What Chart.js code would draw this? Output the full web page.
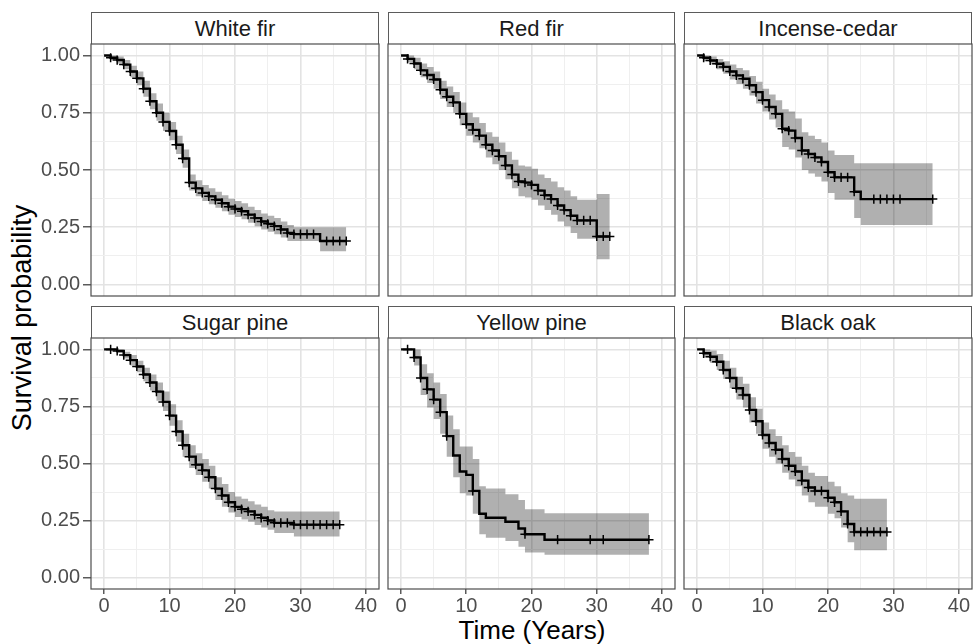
<!DOCTYPE html>
<html>
<head>
<meta charset="utf-8">
<script src="https://cdn.jsdelivr.net/npm/chart.js@4.4.1/dist/chart.umd.min.js"></script>
<style>
  body { margin: 0; background: #fff; width: 973px; height: 644px; overflow: hidden; position: relative;
         font-family: "Liberation Sans", Arial, sans-serif; }
  canvas, .strip, .axis-title { position: absolute; }
  .strip { box-sizing: border-box; border: 1px solid #5b5b5b; border-bottom: none; background: #fff;
           color: #1a1a1a; font-size: 22px; text-align: center; line-height: 31px; }
  .axis-title { color: #000; white-space: nowrap; transform: translate(-50%, -50%); }
  #ytitle { left: 22px; top: 318px; font-size: 27px; transform: translate(-50%, -50%) rotate(-90deg); }
  #xtitle { left: 532px; top: 630px; font-size: 26px; }
</style>
</head>
<body>
<div id="ytitle" class="axis-title">Survival probability</div>
<div id="xtitle" class="axis-title">Time (Years)</div>
<script>
// axis ticks (labels) and grid lines
const X_TICKS = [0, 10, 20, 30, 40];
const X_GRID = [0, 5, 10, 15, 20, 25, 30, 35, 40];
const Y_TICKS = [0, 0.25, 0.5, 0.75, 1];
const Y_GRID = [0, 0.125, 0.25, 0.375, 0.5, 0.625, 0.75, 0.875, 1];
const X_MIN = -2, X_MAX = 42;
const Y_MIN = -0.05, Y_MAX = 1.05;

// White fir
const WF_TIME = [0,1,2,3,4,5,6,7,8,9,10,11,12,13,14,15,16,17,18,19,20,21,22,23,24,25,26,27,28,29,33,37];
const WF_SURV = [1,0.99,0.98,0.96,0.93,0.90,0.855,0.80,0.75,0.71,0.67,0.61,0.55,0.445,0.42,0.40,0.385,0.37,0.355,0.34,0.33,0.32,0.305,0.29,0.275,0.265,0.255,0.24,0.225,0.22,0.19,0.19];
const WF_UPP  = [1,1,0.995,0.98,0.955,0.93,0.89,0.835,0.79,0.75,0.71,0.65,0.59,0.48,0.455,0.435,0.42,0.405,0.39,0.375,0.365,0.355,0.34,0.325,0.31,0.30,0.29,0.275,0.26,0.25,0.25,0.25];
const WF_LOW  = [1,0.98,0.965,0.94,0.905,0.87,0.82,0.765,0.715,0.67,0.63,0.57,0.51,0.41,0.385,0.365,0.35,0.335,0.32,0.305,0.295,0.285,0.27,0.255,0.24,0.23,0.22,0.205,0.19,0.19,0.145,0.145];
const WF_CENS = [1,2,3,4,5,6,7,8,9,10,11,12,13,14,15,16,17,18,19,20,21,22,23,24,25,26,27,28,29,30,31,32,34,35,36,37];

// Red fir
const RF_TIME = [0,1,2,3,4,5,6,7,8,9,10,11,12,13,14,15,16,17,18,19,20,21,22,23,24,25,26,27,30,32];
const RF_SURV = [1,0.985,0.965,0.935,0.915,0.895,0.85,0.82,0.795,0.745,0.70,0.675,0.65,0.61,0.585,0.56,0.52,0.48,0.45,0.445,0.435,0.41,0.39,0.373,0.345,0.325,0.30,0.28,0.21,0.21];
const RF_UPP  = [1,1,0.99,0.965,0.95,0.93,0.89,0.865,0.84,0.795,0.75,0.73,0.705,0.665,0.645,0.62,0.58,0.545,0.52,0.515,0.505,0.48,0.465,0.45,0.425,0.41,0.385,0.37,0.395,0.395];
const RF_LOW  = [1,0.97,0.94,0.905,0.88,0.855,0.81,0.775,0.75,0.695,0.65,0.62,0.595,0.555,0.525,0.5,0.46,0.42,0.385,0.38,0.37,0.345,0.325,0.305,0.275,0.255,0.225,0.2,0.11,0.11];
const RF_CENS = [1,2,3,4,5,6,7,8,9,10,11,12,13,14,15,16,17,18,19,20,21,22,23,24,25,26,27,28,29,30,31,32];

// Incense-cedar
const IC_TIME = [0,1,2,3,4,5,6,7,8,9,10,11,12,13,14,15,16,17,18,19,20,21,24,25,36];
const IC_SURV = [1,0.99,0.978,0.964,0.95,0.93,0.913,0.898,0.87,0.84,0.805,0.775,0.745,0.68,0.672,0.64,0.585,0.57,0.555,0.535,0.49,0.468,0.405,0.373,0.373];
const IC_UPP  = [1,1,0.995,0.985,0.975,0.96,0.945,0.935,0.91,0.885,0.855,0.83,0.805,0.765,0.755,0.725,0.665,0.65,0.635,0.62,0.585,0.565,0.53,0.53,0.53];
const IC_LOW  = [1,0.975,0.96,0.94,0.92,0.895,0.875,0.855,0.825,0.79,0.755,0.72,0.685,0.6,0.59,0.555,0.5,0.485,0.47,0.45,0.4,0.37,0.29,0.26,0.26];
const IC_CENS = [1,2,3,4,5,6,7,8,9,10,11,12,13,14,15,16,17,18,19,20,21,22,23,24,27,28,29,30,31,36];

// Sugar pine
const SP_TIME = [0,1,2,3,4,5,6,7,8,9,10,11,12,13,14,15,16,17,18,19,20,21,22,23,24,25,26,29,36];
const SP_SURV = [1,1,0.993,0.975,0.953,0.925,0.89,0.855,0.815,0.77,0.71,0.64,0.58,0.53,0.495,0.47,0.44,0.39,0.36,0.33,0.31,0.30,0.29,0.275,0.262,0.25,0.24,0.232,0.232];
const SP_UPP  = [1,1,1,0.99,0.975,0.95,0.92,0.89,0.855,0.815,0.76,0.69,0.63,0.58,0.545,0.52,0.49,0.44,0.41,0.375,0.355,0.345,0.335,0.32,0.31,0.295,0.29,0.29,0.29];
const SP_LOW  = [1,1,0.985,0.96,0.93,0.9,0.86,0.82,0.775,0.73,0.665,0.595,0.53,0.48,0.45,0.42,0.39,0.34,0.31,0.285,0.265,0.255,0.245,0.23,0.22,0.21,0.195,0.18,0.18];
const SP_CENS = [1,2,3,4,5,6,7,8,9,10,11,12,13,14,15,16,17,18,19,20,21,22,23,24,25,26,27,28,29,30,31,32,33,34,35,36];

// Yellow pine
const YP_TIME = [0,2,3,4,5,6,7,8,9,10,11,12,13,16,18,19,22,38];
const YP_SURV = [1,0.965,0.875,0.825,0.78,0.725,0.62,0.535,0.465,0.45,0.38,0.28,0.262,0.245,0.215,0.19,0.166,0.166];
const YP_UPP  = [1,1,0.935,0.895,0.855,0.805,0.71,0.65,0.575,0.575,0.52,0.4,0.39,0.365,0.34,0.3,0.282,0.282];
const YP_LOW  = [1,0.93,0.8,0.745,0.695,0.63,0.53,0.44,0.37,0.36,0.28,0.19,0.175,0.16,0.135,0.11,0.1,0.1];
const YP_CENS = [1,2,3,4,5,6,7,11,19,24,29,31,38];

// Black oak
const BO_TIME = [0,1,2,3,4,5,6,7,8,9,10,11,12,13,14,15,16,17,18,20,21,22,23,24,29];
const BO_SURV = [1,0.983,0.968,0.946,0.91,0.875,0.83,0.80,0.735,0.685,0.625,0.59,0.56,0.52,0.49,0.465,0.425,0.395,0.38,0.35,0.33,0.29,0.235,0.20,0.20];
const BO_UPP  = [1,1,0.995,0.98,0.95,0.92,0.88,0.85,0.79,0.74,0.68,0.65,0.62,0.58,0.55,0.53,0.49,0.46,0.445,0.42,0.40,0.37,0.36,0.345,0.345];
const BO_LOW  = [1,0.965,0.94,0.91,0.87,0.83,0.78,0.745,0.68,0.63,0.565,0.53,0.5,0.46,0.43,0.4,0.36,0.33,0.31,0.28,0.26,0.22,0.155,0.12,0.12];
const BO_CENS = [1,2,3,4,5,6,7,8,9,10,11,12,13,14,15,16,17,18,19,20,21,22,23,24,25,26,27,28,29];

const PANELS = [
  { name: 'White fir',    time: WF_TIME, surv: WF_SURV, upp: WF_UPP, low: WF_LOW, cens: WF_CENS },
  { name: 'Red fir',      time: RF_TIME, surv: RF_SURV, upp: RF_UPP, low: RF_LOW, cens: RF_CENS },
  { name: 'Incense-cedar',time: IC_TIME, surv: IC_SURV, upp: IC_UPP, low: IC_LOW, cens: IC_CENS },
  { name: 'Sugar pine',   time: SP_TIME, surv: SP_SURV, upp: SP_UPP, low: SP_LOW, cens: SP_CENS },
  { name: 'Yellow pine',  time: YP_TIME, surv: YP_SURV, upp: YP_UPP, low: YP_LOW, cens: YP_CENS },
  { name: 'Black oak',    time: BO_TIME, surv: BO_SURV, upp: BO_UPP, low: BO_LOW, cens: BO_CENS },
];

// panel layout (pixels)
const COL_LEFT = [91, 388, 684];
const COL_RIGHT = [379, 675, 972];
const ROW_TOP = [44, 338];
const ROW_BOTTOM = [296, 589];
const STRIP_H = 32;
const M = 20, Y_AXIS_W = 61, X_AXIS_H = 40;
const FONT = "'Liberation Sans', Arial, sans-serif";

function survAt(time, surv, t) {
  let v = surv[0];
  for (let i = 0; i < time.length; i++) {
    if (time[i] <= t) v = surv[i];
  }
  return v;
}

const panelBox = {
  id: 'panelBox',
  afterDraw(chart) {
    const a = chart.chartArea;
    const ctx = chart.ctx;
    ctx.save();
    ctx.strokeStyle = '#4d4d4d';
    ctx.lineWidth = 1.2;
    ctx.strokeRect(a.left, a.top, a.right - a.left, a.bottom - a.top);
    ctx.restore();
  }
};

PANELS.forEach((p, i) => {
  const c = i % 3, r = Math.floor(i / 3);
  const padL = c === 0 ? 0 : M, yW = c === 0 ? Y_AXIS_W : 0;
  const padB = r === 1 ? 0 : M, xH = r === 1 ? X_AXIS_H : 0;
  const left = COL_LEFT[c] - padL - yW;
  const top = ROW_TOP[r] - M;
  const w = COL_RIGHT[c] + M - left;
  const h = ROW_BOTTOM[r] + xH + padB - top;

  const strip = document.createElement('div');
  strip.className = 'strip';
  strip.textContent = p.name;
  strip.style.left = COL_LEFT[c] + 'px';
  strip.style.top = (ROW_TOP[r] - STRIP_H) + 'px';
  strip.style.width = (COL_RIGHT[c] - COL_LEFT[c]) + 'px';
  strip.style.height = STRIP_H + 'px';
  document.body.appendChild(strip);

  const canvas = document.createElement('canvas');
  canvas.width = w;
  canvas.height = h;
  canvas.style.left = left + 'px';
  canvas.style.top = top + 'px';
  canvas.style.width = w + 'px';
  canvas.style.height = h + 'px';
  document.body.appendChild(canvas);

  const pts = (ys) => p.time.map((t, k) => ({ x: t, y: ys[k] }));
  const censPts = p.cens.map(t => ({ x: t, y: survAt(p.time, p.surv, t) }));

  new Chart(canvas, {
    type: 'line',
    data: {
      datasets: [
        { data: pts(p.upp), stepped: true, borderWidth: 0, pointRadius: 0, fill: false, order: 3 },
        { data: pts(p.low), stepped: true, borderWidth: 0, pointRadius: 0, fill: '-1',
          backgroundColor: 'rgba(0,0,0,0.31)', order: 2 },
        { data: pts(p.surv), stepped: true, borderColor: '#000', borderWidth: 2.4, pointRadius: 0, fill: false, order: 1 },
        { data: censPts, showLine: false, pointStyle: 'cross', pointRadius: 4.6, pointBorderWidth: 1.5,
          pointBorderColor: '#000', order: 0 }
      ]
    },
    options: {
      responsive: false,
      animation: false,
      layout: { padding: { left: padL, right: M, top: M, bottom: padB } },
      plugins: { legend: { display: false }, tooltip: { enabled: false } },
      scales: {
        x: {
          type: 'linear', min: X_MIN, max: X_MAX,
          afterBuildTicks: s => { s.ticks = X_GRID.map(v => ({ value: v })); },
          afterFit: s => { s.height = xH; },
          border: { display: false },
          grid: {
            color: ctx => X_TICKS.includes(ctx.tick.value) ? '#e3e3e3' : '#efefef',
            lineWidth: ctx => X_TICKS.includes(ctx.tick.value) ? 1.6 : 1,
            drawTicks: r === 1, tickLength: 5, tickWidth: 1.2,
            tickColor: ctx => X_TICKS.includes(ctx.tick.value) ? '#333' : 'rgba(0,0,0,0)'
          },
          ticks: {
            display: r === 1, autoSkip: false, maxRotation: 0, padding: 2, color: '#4d4d4d',
            font: { family: FONT, size: 20, lineHeight: 1 },
            callback: v => X_TICKS.includes(v) ? String(v) : ''
          }
        },
        y: {
          type: 'linear', min: Y_MIN, max: Y_MAX,
          afterBuildTicks: s => { s.ticks = Y_GRID.map(v => ({ value: v })); },
          afterFit: s => { s.width = yW; },
          border: { display: false },
          grid: {
            color: ctx => Y_TICKS.includes(ctx.tick.value) ? '#e3e3e3' : '#efefef',
            lineWidth: ctx => Y_TICKS.includes(ctx.tick.value) ? 1.6 : 1,
            drawTicks: c === 0, tickLength: 8, tickWidth: 1.2,
            tickColor: ctx => Y_TICKS.includes(ctx.tick.value) ? '#333' : 'rgba(0,0,0,0)'
          },
          ticks: {
            display: c === 0, autoSkip: false, padding: 3, color: '#4d4d4d',
            font: { family: FONT, size: 20, lineHeight: 1 },
            callback: v => Y_TICKS.includes(v) ? v.toFixed(2) : ''
          }
        }
      }
    },
    plugins: [panelBox]
  });
});
</script>
</body>
</html>
